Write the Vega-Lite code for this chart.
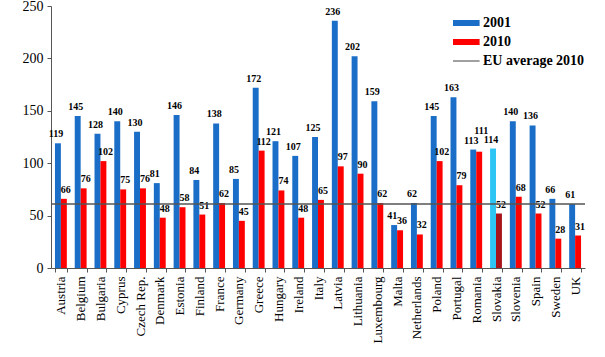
{
  "$schema": "https://vega.github.io/schema/vega-lite/v6.json",
  "width": 534,
  "height": 262,
  "autosize": {"type": "none"},
  "padding": {"left": 51, "top": 6, "right": 20, "bottom": 89},
  "background": "white",
  "config": {"view": {"stroke": null}, "font": "Times New Roman, serif"},
  "datasets": {
    "rates": [
      {"country": "Austria", "year": "2001", "value": 119}, {"country": "Austria", "year": "2010", "value": 66},
      {"country": "Belgium", "year": "2001", "value": 145}, {"country": "Belgium", "year": "2010", "value": 76},
      {"country": "Bulgaria", "year": "2001", "value": 128}, {"country": "Bulgaria", "year": "2010", "value": 102},
      {"country": "Cyprus", "year": "2001", "value": 140}, {"country": "Cyprus", "year": "2010", "value": 75},
      {"country": "Czech Rep.", "year": "2001", "value": 130}, {"country": "Czech Rep.", "year": "2010", "value": 76},
      {"country": "Denmark", "year": "2001", "value": 81}, {"country": "Denmark", "year": "2010", "value": 48},
      {"country": "Estonia", "year": "2001", "value": 146}, {"country": "Estonia", "year": "2010", "value": 58},
      {"country": "Finland", "year": "2001", "value": 84}, {"country": "Finland", "year": "2010", "value": 51},
      {"country": "France", "year": "2001", "value": 138}, {"country": "France", "year": "2010", "value": 62},
      {"country": "Germany", "year": "2001", "value": 85}, {"country": "Germany", "year": "2010", "value": 45},
      {"country": "Greece", "year": "2001", "value": 172}, {"country": "Greece", "year": "2010", "value": 112},
      {"country": "Hungary", "year": "2001", "value": 121}, {"country": "Hungary", "year": "2010", "value": 74},
      {"country": "Ireland", "year": "2001", "value": 107}, {"country": "Ireland", "year": "2010", "value": 48},
      {"country": "Italy", "year": "2001", "value": 125}, {"country": "Italy", "year": "2010", "value": 65},
      {"country": "Latvia", "year": "2001", "value": 236}, {"country": "Latvia", "year": "2010", "value": 97},
      {"country": "Lithuania", "year": "2001", "value": 202}, {"country": "Lithuania", "year": "2010", "value": 90},
      {"country": "Luxembourg", "year": "2001", "value": 159}, {"country": "Luxembourg", "year": "2010", "value": 62},
      {"country": "Malta", "year": "2001", "value": 41}, {"country": "Malta", "year": "2010", "value": 36},
      {"country": "Netherlands", "year": "2001", "value": 62}, {"country": "Netherlands", "year": "2010", "value": 32},
      {"country": "Poland", "year": "2001", "value": 145}, {"country": "Poland", "year": "2010", "value": 102},
      {"country": "Portugal", "year": "2001", "value": 163}, {"country": "Portugal", "year": "2010", "value": 79},
      {"country": "Romania", "year": "2001", "value": 113}, {"country": "Romania", "year": "2010", "value": 111},
      {"country": "Slovakia", "year": "2001", "value": 114}, {"country": "Slovakia", "year": "2010", "value": 52},
      {"country": "Slovenia", "year": "2001", "value": 140}, {"country": "Slovenia", "year": "2010", "value": 68},
      {"country": "Spain", "year": "2001", "value": 136}, {"country": "Spain", "year": "2010", "value": 52},
      {"country": "Sweden", "year": "2001", "value": 66}, {"country": "Sweden", "year": "2010", "value": 28},
      {"country": "UK", "year": "2001", "value": 61}, {"country": "UK", "year": "2010", "value": 31}
    ],
    "eu": [{"label": "EU average 2010", "avg": 61}]
  },
  "layer": [
    {
      "data": {"name": "rates"},
      "mark": {"type": "bar"},
      "encoding": {
        "x": {
          "field": "country", "type": "nominal", "sort": null,
          "scale": {"paddingInner": 0.4, "paddingOuter": 0.2},
          "axis": {
            "title": null, "labelAngle": -90, "labelFont": "Times New Roman, serif", "labelFontSize": 13,
            "labelColor": "#000", "domainColor": "#555", "tickColor": "#555", "tickSize": 4,
            "tickBand": "extent", "labelPadding": 4, "grid": false
          }
        },
        "xOffset": {"field": "year", "type": "nominal", "sort": ["2001", "2010"]},
        "y": {
          "field": "value", "type": "quantitative",
          "scale": {"domain": [0, 250], "nice": false},
          "axis": {
            "title": null, "values": [0, 50, 100, 150, 200, 250], "grid": false,
            "labelFont": "Times New Roman, serif", "labelFontSize": 14, "labelColor": "#000",
            "domainColor": "#555", "tickColor": "#555", "tickSize": 4, "labelPadding": 4
          }
        },
        "color": {
          "condition": [
            {"test": "datum.country === 'Slovakia' && datum.year === '2001'", "value": "#2ec4f4"},
            {"test": "datum.country === 'Slovakia' && datum.year === '2010'", "value": "#a8141c"}
          ],
          "field": "year", "type": "nominal",
          "scale": {"domain": ["2001", "2010", "EU average 2010"], "range": ["#1b6ec8", "#ff0000", "#555555"]},
          "legend": {
            "title": null, "orient": "none", "legendX": 402, "legendY": 10,
            "symbolSize": 196, "labelFont": "Times New Roman, serif", "labelFontSize": 14, "labelFontWeight": "bold",
            "labelColor": "#000", "rowPadding": 5, "labelOffset": 16,
            "symbolStrokeWidth": 0,
            "encode": {
              "symbols": {
                "update": {
                  "shape": {"signal": "datum.label === 'EU average 2010' ? 'M-1,-0.08H2.8V0.08H-1Z' : 'M-1,-0.43H2.8V0.43H-1Z'"},
                  "strokeWidth": {"value": 0},
                  "opacity": {"value": 1},
                  "fillOpacity": {"value": 1}
                }
              }
            }
          }
        }
      }
    },
    {
      "data": {"name": "rates"},
      "transform": [{"filter": "datum.year === '2001'"}],
      "mark": {"type": "text", "baseline": "bottom", "dy": -4, "dx": -2, "font": "Times New Roman, serif", "fontWeight": "bold", "fontSize": 10, "color": "#000"},
      "encoding": {
        "x": {"field": "country", "type": "nominal", "sort": null},
        "xOffset": {"datum": "2001"},
        "y": {"field": "value", "type": "quantitative"},
        "text": {"field": "value", "type": "quantitative"}
      }
    },
    {
      "data": {"name": "rates"},
      "transform": [{"filter": "datum.year === '2010' && datum.country !== 'Romania'"}],
      "mark": {"type": "text", "baseline": "bottom", "dy": -4, "dx": 2, "font": "Times New Roman, serif", "fontWeight": "bold", "fontSize": 10, "color": "#000"},
      "encoding": {
        "x": {"field": "country", "type": "nominal", "sort": null},
        "xOffset": {"datum": "2010"},
        "y": {"field": "value", "type": "quantitative"},
        "text": {"field": "value", "type": "quantitative"}
      }
    },
    {
      "data": {"name": "rates"},
      "transform": [{"filter": "datum.year === '2010' && datum.country === 'Romania'"}],
      "mark": {"type": "text", "baseline": "bottom", "dy": -16, "dx": 2, "font": "Times New Roman, serif", "fontWeight": "bold", "fontSize": 10, "color": "#000"},
      "encoding": {
        "x": {"field": "country", "type": "nominal", "sort": null},
        "xOffset": {"datum": "2010"},
        "y": {"field": "value", "type": "quantitative"},
        "text": {"field": "value", "type": "quantitative"}
      }
    },
    {
      "data": {"name": "eu"},
      "mark": {"type": "rule", "strokeWidth": 1.5, "color": "#555555"},
      "encoding": {
        "y": {"field": "avg", "type": "quantitative"}
      }
    }
  ]
}
